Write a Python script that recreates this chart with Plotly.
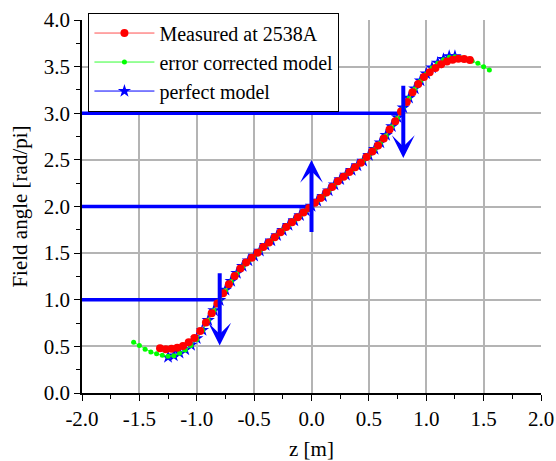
import plotly.graph_objects as go

# ---------------- data ----------------
measured_z = [-1.32, -1.27, -1.22, -1.17, -1.12, -1.07, -1.02, -0.97, -0.92, -0.87,
              -0.82, -0.77, -0.72, -0.67, -0.62, -0.57, -0.52, -0.47, -0.42, -0.37,
              -0.32, -0.27, -0.22, -0.17, -0.12, -0.07, -0.02, 0.03, 0.08, 0.13,
              0.18, 0.23, 0.28, 0.33, 0.38, 0.43, 0.48, 0.53, 0.58, 0.63,
              0.68, 0.73, 0.78, 0.83, 0.88, 0.93, 0.98, 1.03, 1.08, 1.13,
              1.18, 1.23, 1.28, 1.33, 1.38]
measured_y = [0.48, 0.47, 0.475, 0.485, 0.505, 0.545, 0.59, 0.665, 0.755, 0.855,
              0.96, 1.07, 1.165, 1.255, 1.335, 1.40, 1.45, 1.505, 1.565, 1.615,
              1.67, 1.725, 1.78, 1.83, 1.885, 1.935, 1.985, 2.04, 2.09, 2.15,
              2.21, 2.27, 2.32, 2.37, 2.42, 2.47, 2.53, 2.59, 2.655, 2.73,
              2.825, 2.915, 3.02, 3.12, 3.225, 3.315, 3.39, 3.44, 3.485, 3.525,
              3.555, 3.575, 3.585, 3.583, 3.57]

corrected_z = [-1.55, -1.50, -1.45, -1.40, -1.35, -1.30, -1.25, -1.20, -1.15, -1.10,
               -1.05, -1.00, -0.95, -0.90, -0.85, -0.80, -0.75, -0.70, -0.65, -0.60,
               -0.55, -0.50, -0.45, -0.40, -0.35, -0.30, -0.25, -0.20, -0.15, -0.10,
               -0.05, 0.00, 0.05, 0.10, 0.15, 0.20, 0.25, 0.30, 0.35, 0.40,
               0.45, 0.50, 0.55, 0.60, 0.65, 0.70, 0.75, 0.80, 0.85, 0.90,
               0.95, 1.00, 1.05, 1.10, 1.15, 1.20, 1.25, 1.30, 1.35, 1.40,
               1.45, 1.50, 1.55]
corrected_y = [0.545, 0.51, 0.47, 0.44, 0.42, 0.405, 0.395, 0.40, 0.425, 0.46,
               0.51, 0.575, 0.67, 0.78, 0.885, 0.995, 1.10, 1.195, 1.28, 1.355,
               1.415, 1.47, 1.525, 1.58, 1.635, 1.69, 1.745, 1.795, 1.85, 1.90,
               1.955, 2.005, 2.055, 2.11, 2.17, 2.23, 2.29, 2.34, 2.39, 2.44,
               2.49, 2.545, 2.61, 2.68, 2.76, 2.855, 2.95, 3.055, 3.16, 3.26,
               3.345, 3.42, 3.485, 3.535, 3.575, 3.60, 3.605, 3.595, 3.58, 3.56,
               3.535, 3.50, 3.465]

perfect_z = [-1.25, -1.20, -1.15, -1.10, -1.05, -1.00, -0.95, -0.90, -0.85, -0.80,
             -0.75, -0.70, -0.65, -0.60, -0.55, -0.50, -0.45, -0.40, -0.35, -0.30,
             -0.25, -0.20, -0.15, -0.10, -0.05, 0.00, 0.05, 0.10, 0.15, 0.20,
             0.25, 0.30, 0.35, 0.40, 0.45, 0.50, 0.55, 0.60, 0.65, 0.70,
             0.75, 0.80, 0.85, 0.90, 0.95, 1.00, 1.05, 1.10, 1.15, 1.20, 1.25]
perfect_y = [0.385, 0.40, 0.43, 0.465, 0.515, 0.585, 0.675, 0.78, 0.885, 0.995,
             1.105, 1.20, 1.285, 1.36, 1.42, 1.47, 1.525, 1.585, 1.635, 1.69,
             1.745, 1.80, 1.85, 1.905, 1.955, 2.005, 2.06, 2.11, 2.17, 2.235,
             2.29, 2.34, 2.39, 2.44, 2.49, 2.55, 2.615, 2.685, 2.765, 2.86,
             2.955, 3.06, 3.165, 3.265, 3.35, 3.425, 3.49, 3.54, 3.58, 3.61, 3.61]

# guide lines and arrows
hline_y = [1.0, 2.0, 3.0]
hline_z_end = [-0.80, 0.0, 0.80]
arrow_z = [-0.80, 0.0, 0.80]
arrow_tail_y = [1.30, 1.71, 3.31]
arrow_tip_y = [0.51, 2.50, 2.52]

x_ticks = [-2.0, -1.5, -1.0, -0.5, 0.0, 0.5, 1.0, 1.5, 2.0]
y_ticks = [0.0, 0.5, 1.0, 1.5, 2.0, 2.5, 3.0, 3.5, 4.0]
x_grid = [-1.5, -1.0, -0.5, 0.0, 0.5, 1.0, 1.5]
y_grid = [0.5, 1.0, 1.5, 2.0, 2.5, 3.0, 3.5]

FONT = "Liberation Serif"
BLUE = "#0000ff"
TICKFONT = dict(family=FONT, size=21, color="black")

fig = go.Figure()

# grid carrier (overlay axes) - invisible trace
fig.add_trace(go.Scatter(x=[], y=[], xaxis="x2", yaxis="y2", showlegend=False,
                         hoverinfo="skip"))

# horizontal guide lines
for yv, xe in zip(hline_y, hline_z_end):
    fig.add_trace(go.Scatter(x=[x_ticks[0], xe], y=[yv, yv], mode="lines",
                             line=dict(color=BLUE, width=3.5),
                             showlegend=False, hoverinfo="skip"))

fig.add_trace(go.Scatter(x=perfect_z, y=perfect_y, mode="lines+markers",
                         name="perfect model", legendrank=3,
                         line=dict(color=BLUE, width=1),
                         marker=dict(symbol="star", size=10, color=BLUE)))
fig.add_trace(go.Scatter(x=corrected_z, y=corrected_y, mode="lines+markers",
                         name="error corrected model", legendrank=2,
                         line=dict(color="#33ff33", width=1),
                         marker=dict(symbol="circle", size=5, color="#00ff00")))
fig.add_trace(go.Scatter(x=measured_z, y=measured_y, mode="lines+markers",
                         name="Measured at 2538A", legendrank=1,
                         line=dict(color="#ff5050", width=1),
                         marker=dict(symbol="circle", size=8, color="#ff0000")))

for xz, yt, yh in zip(arrow_z, arrow_tail_y, arrow_tip_y):
    fig.add_annotation(x=xz, y=yh, ax=xz, ay=yt, xref="x", yref="y",
                       axref="x", ayref="y", text="", showarrow=True,
                       arrowhead=3, arrowsize=0.95, arrowwidth=4,
                       arrowcolor=BLUE, standoff=0, startstandoff=0)

minor_ticks = dict(ticks="outside", ticklen=4, tickwidth=1, tickcolor="black",
                   dtick=0.25, tick0=0, showgrid=False)

fig.update_layout(
    template="none",
    width=556, height=461,
    margin=dict(l=81.5, r=14.5, t=20, b=68, autoexpand=False),
    paper_bgcolor="white", plot_bgcolor="white",
    font=dict(family=FONT, size=21, color="black"),
    xaxis=dict(range=[-2, 2], tickvals=x_ticks,
               ticktext=[f"{v:.1f}" for v in x_ticks],
               tickfont=TICKFONT, automargin=False,
               showline=True, linecolor="black", linewidth=1.5,
               ticks="outside", ticklen=6, tickwidth=1, tickcolor="black",
               showgrid=False, zeroline=False, minor=minor_ticks,
               title=dict(text="z [m]", font=dict(family=FONT, size=21),
                          standoff=11)),
    yaxis=dict(range=[0, 4], tickvals=y_ticks,
               ticktext=[f"{v:.1f}" for v in y_ticks],
               tickfont=TICKFONT, automargin=False,
               showline=True, linecolor="black", linewidth=1.5,
               ticks="outside", ticklen=6, tickwidth=1, tickcolor="black",
               showgrid=False, zeroline=False, minor=minor_ticks,
               title=dict(text="Field angle [rad/pi]",
                          font=dict(family=FONT, size=21), standoff=10)),
    xaxis2=dict(overlaying="x", matches="x", range=[-2, 2], tickvals=x_grid,
                showgrid=True, gridcolor="#b4b4b4", gridwidth=1.5,
                showticklabels=False, ticks="", showline=False, zeroline=False,
                anchor="y2", side="bottom", automargin=False),
    yaxis2=dict(overlaying="y", matches="y", range=[0, 4], tickvals=y_grid,
                showgrid=True, gridcolor="#b4b4b4", gridwidth=1.5,
                showticklabels=False, ticks="", showline=False, zeroline=False,
                anchor="x2", side="left", automargin=False),
    legend=dict(x=0.014, y=1.02, xanchor="left", yanchor="top",
                bgcolor="white", bordercolor="black", borderwidth=1,
                font=dict(family=FONT, size=20, color="black"),
                itemwidth=60, tracegroupgap=0),
    showlegend=True,
)

fig.write_html("out.html")
